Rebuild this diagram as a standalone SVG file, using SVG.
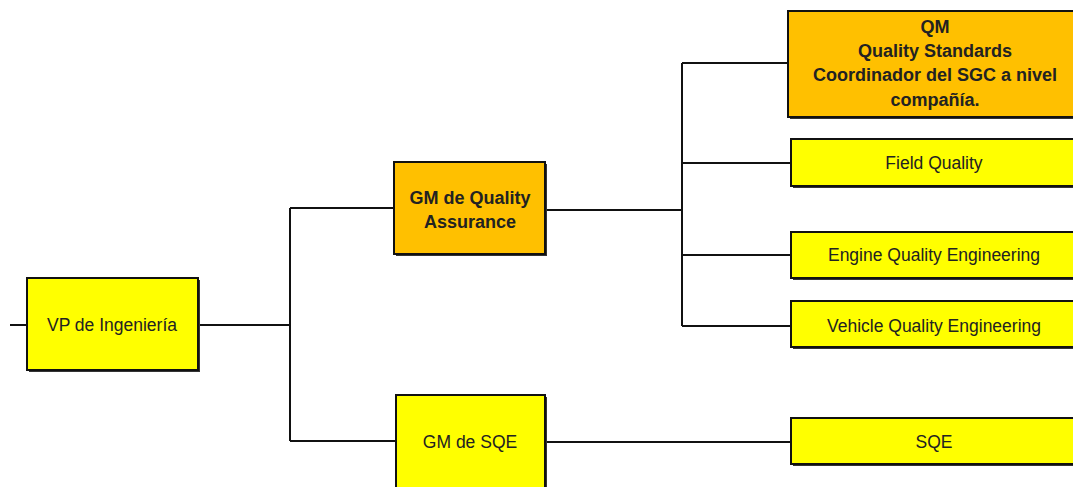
<svg xmlns="http://www.w3.org/2000/svg" width="1073" height="487" viewBox="0 0 1073 487">
<style>
.box{stroke:#111;stroke-width:2}
.y{fill:#FFFF00}
.o{fill:#FFC000}
.sh{fill:#333}
.t{font-family:"Liberation Sans",Arial,sans-serif;font-size:17.5px;fill:#222;text-anchor:middle}
.b{font-weight:bold;font-size:18px}
.c{stroke:#111;stroke-width:2;fill:none}
</style>
<rect width="1073" height="487" fill="#fff"/>
<g id="connectors">
<path class="c" d="M10 325H27M198 325H290M290 208V441M290 208H394M290 441H396M545 210H682M682 63V326M682 63H788M682 163H791M682 255H791M682 326H791M545 442H791"/>
</g>
<g id="vp">
<rect class="sh" x="29" y="280" width="171" height="92"/>
<rect class="box y" x="27" y="278" width="171" height="92"/>
<text class="t" x="112" y="331">VP de Ingeniería</text>
</g>
<g id="gmqa">
<rect class="sh" x="396" y="164" width="151" height="92"/>
<rect class="box o" x="394" y="162" width="151" height="92"/>
<text class="t b" x="470" y="204">GM de Quality</text>
<text class="t b" x="470" y="228">Assurance</text>
</g>
<g id="gmsqe">
<rect class="sh" x="398" y="397" width="149" height="100"/>
<rect class="box y" x="396" y="395" width="149" height="100"/>
<text class="t" x="470" y="448">GM de SQE</text>
</g>
<g id="qm">
<rect class="sh" x="790" y="13" width="290" height="106"/>
<rect class="box o" x="788" y="11" width="290" height="106"/>
<text class="t b" x="935" y="33">QM</text>
<text class="t b" x="935" y="57">Quality Standards</text>
<text class="t b" x="935" y="81">Coordinador del SGC a nivel</text>
<text class="t b" x="935" y="106">compañía.</text>
</g>
<g id="field">
<rect class="sh" x="793" y="141" width="290" height="47"/>
<rect class="box y" x="791" y="139" width="290" height="47"/>
<text class="t" x="934" y="169">Field Quality</text>
</g>
<g id="engine">
<rect class="sh" x="793" y="234" width="290" height="46"/>
<rect class="box y" x="791" y="232" width="290" height="46"/>
<text class="t" x="934" y="261">Engine Quality Engineering</text>
</g>
<g id="vehicle">
<rect class="sh" x="793" y="303" width="290" height="46"/>
<rect class="box y" x="791" y="301" width="290" height="46"/>
<text class="t" x="934" y="332">Vehicle Quality Engineering</text>
</g>
<g id="sqe">
<rect class="sh" x="793" y="420" width="290" height="46"/>
<rect class="box y" x="791" y="418" width="290" height="46"/>
<text class="t" x="934" y="448">SQE</text>
</g>
</svg>
